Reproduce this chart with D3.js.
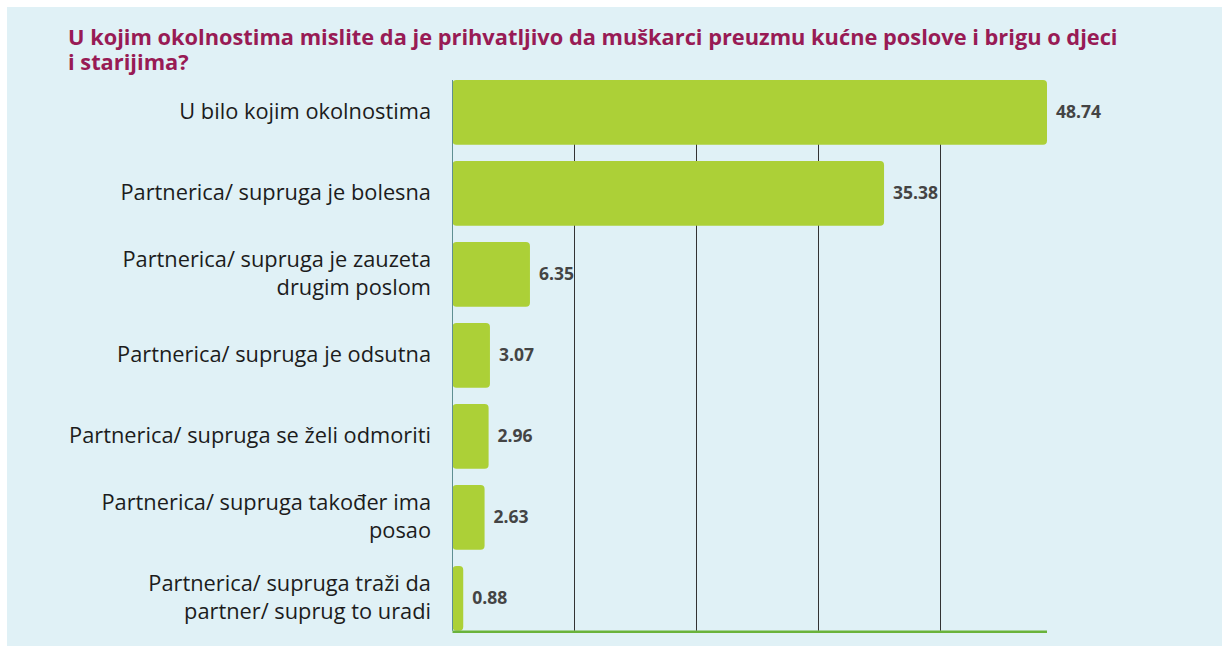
<!DOCTYPE html>
<html>
<head>
<meta charset="utf-8">
<script src="https://cdn.jsdelivr.net/npm/d3@7"></script>
<style>
  body { margin: 0; background: #fff; }
  svg { display: block; }
</style>
</head>
<body>
<script>
// chart data
var title = ["U kojim okolnostima mislite da je prihvatljivo da muškarci preuzmu kućne poslove i brigu o djeci",
             "i starijima?"];
var categories = [
  ["U bilo kojim okolnostima"],
  ["Partnerica/ supruga je bolesna"],
  ["Partnerica/ supruga je zauzeta", "drugim poslom"],
  ["Partnerica/ supruga je odsutna"],
  ["Partnerica/ supruga se želi odmoriti"],
  ["Partnerica/ supruga također ima", "posao"],
  ["Partnerica/ supruga traži da", "partner/ suprug to uradi"]
];
var values = [48.74, 35.38, 6.35, 3.07, 2.96, 2.63, 0.88];
var gridTicks = [10, 20, 30, 40];

var width = 1222, height = 646;

var svg = d3.select("body").append("svg")
    .attr("width", width)
    .attr("height", height);

// light blue panel
svg.append("rect")
    .attr("x", 7)
    .attr("y", 7)
    .attr("width", width - 7)
    .attr("height", height - 7)
    .attr("fill", "#e0f1f6");

svg.append("text")
    .attr("x", 68)
    .attr("y", 45)
    .attr("font-family", "'Open Sans', sans-serif")
    .attr("font-size", 21.8)
    .attr("font-weight", "bold")
    .attr("fill", "#981b55")
    .selectAll("tspan")
    .data(title)
    .join("tspan")
      .attr("x", 68)
      .attr("dy", function(d, i) { return i ? 25 : 0; })
      .text(function(d) { return d; });

var x0 = 452.5;
var x = d3.scaleLinear()
    .domain([0, d3.max(values)])
    .range([x0, 1047]);

var y = d3.scaleBand()
    .domain(d3.range(values.length))
    .range([71.9, 638.9])
    .paddingInner(0.2)
    .paddingOuter(0.1);

var yTop = y(0), yBottom = y(values.length - 1) + y.bandwidth();

// vertical grid lines behind the bars
svg.append("g")
    .selectAll("line")
    .data(gridTicks)
    .join("line")
      .attr("x1", function(d) { return Math.round(x(d)) + 0.5; })
      .attr("x2", function(d) { return Math.round(x(d)) + 0.5; })
      .attr("y1", yTop)
      .attr("y2", yBottom)
      .attr("stroke", "#333")
      .attr("stroke-width", 1);

// bars
svg.append("g")
    .selectAll("rect")
    .data(values)
    .join("rect")
      .attr("x", x0)
      .attr("y", function(d, i) { return y(i); })
      .attr("width", function(d) { return x(d) - x0; })
      .attr("height", y.bandwidth())
      .attr("rx", 4)
      .attr("fill", "#acd037");

// left axis line
svg.append("line")
    .attr("x1", x0)
    .attr("x2", x0)
    .attr("y1", yTop)
    .attr("y2", yBottom)
    .attr("stroke", "#5f8f92")
    .attr("stroke-width", 1);

// bottom axis line
svg.append("line")
    .attr("x1", x0)
    .attr("x2", x(d3.max(values)))
    .attr("y1", yBottom + 1)
    .attr("y2", yBottom + 1)
    .attr("stroke", "#6ab33b")
    .attr("stroke-width", 2.5);

// value labels
svg.append("g")
    .selectAll("text")
    .data(values)
    .join("text")
      .attr("x", function(d) { return x(d) + 9; })
      .attr("y", function(d, i) { return y(i) + y.bandwidth() / 2 + 6; })
      .attr("font-family", "'Open Sans', sans-serif")
      .attr("font-size", 17.5)
      .attr("font-weight", "bold")
      .attr("fill", "#444")
      .text(function(d) { return d.toFixed(2); });

// category labels, right aligned
var lineH = 28;
svg.append("g")
    .selectAll("text")
    .data(categories)
    .join("text")
      .attr("text-anchor", "end")
      .attr("font-family", "'Open Sans', sans-serif")
      .attr("font-size", 21.8)
      .attr("fill", "#1c1c1c")
      .attr("y", function(d, i) {
        return y(i) + y.bandwidth() / 2 + 7 - (d.length - 1) * lineH / 2;
      })
      .each(function(d) {
        d3.select(this).selectAll("tspan")
          .data(d)
          .join("tspan")
            .attr("x", 431)
            .attr("dy", function(t, j) { return j ? lineH : 0; })
            .text(function(t) { return t; });
      });
</script>
</body>
</html>
